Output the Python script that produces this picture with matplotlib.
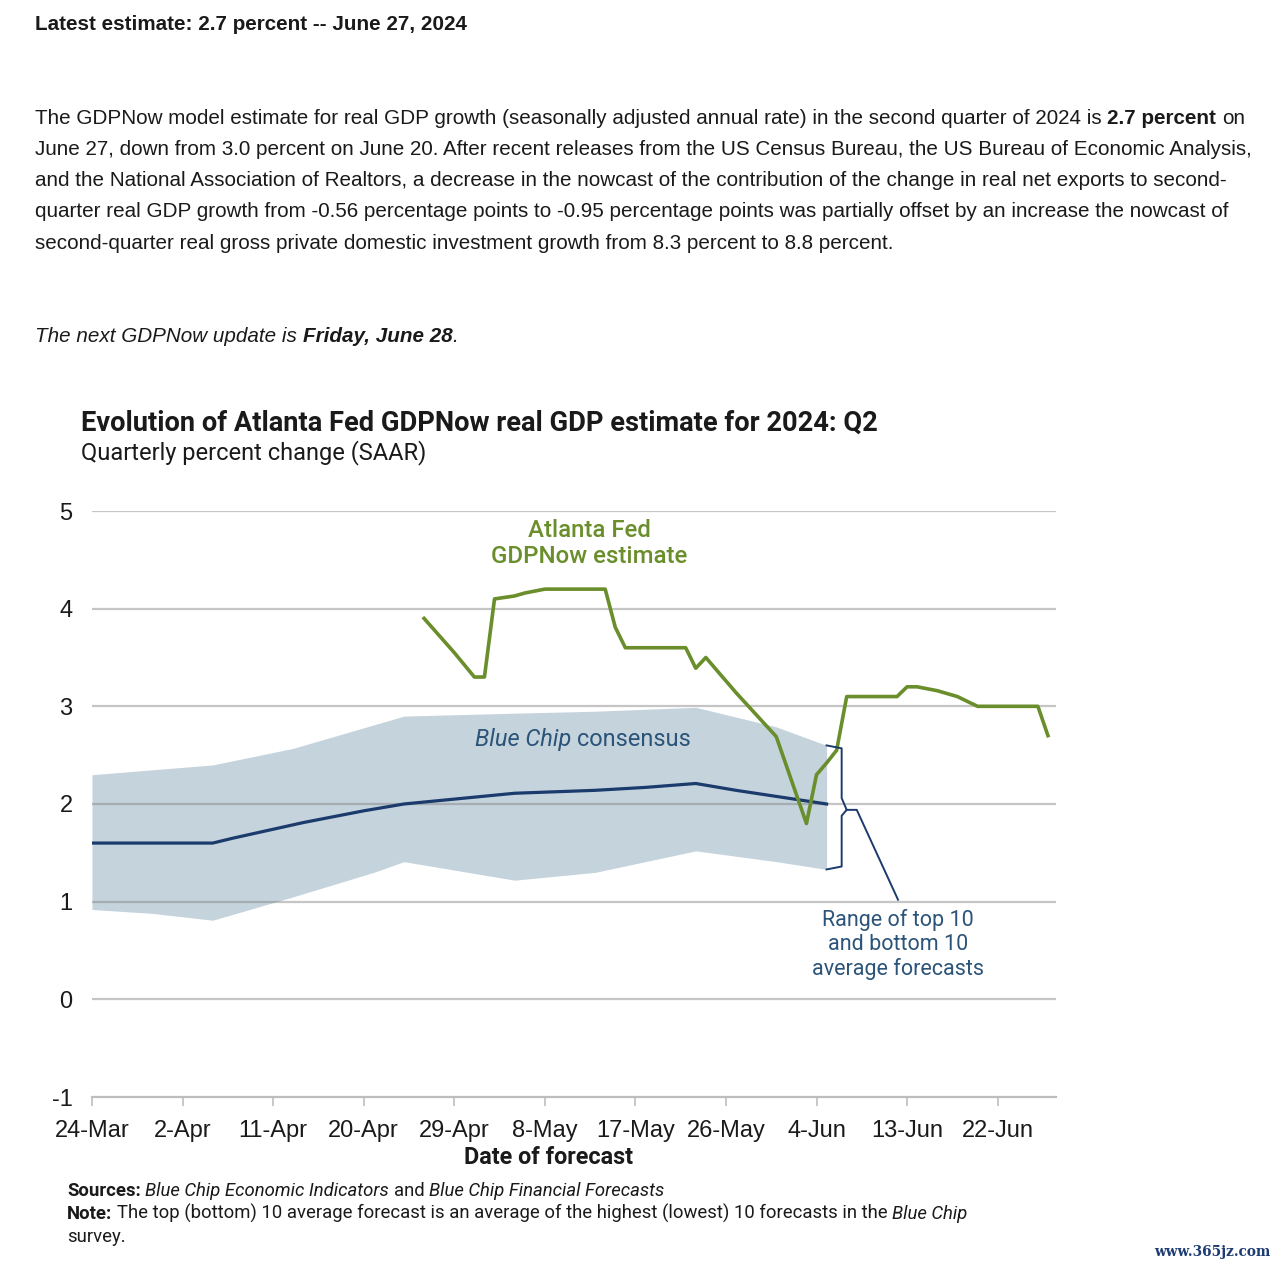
import numpy as np
import pandas as pd
import matplotlib
matplotlib.use('Agg')
import matplotlib.pyplot as plt
import matplotlib.dates as mdates

W, H = 1277, 1267

# GDPNow estimate (percent, SAAR)
gdpnow_dates = ['2024-04-26', '2024-04-29', '2024-05-01', '2024-05-02', '2024-05-03',
                '2024-05-05', '2024-05-06', '2024-05-08', '2024-05-14', '2024-05-15',
                '2024-05-16', '2024-05-22', '2024-05-23', '2024-05-24', '2024-05-27',
                '2024-05-31', '2024-06-03', '2024-06-04', '2024-06-05', '2024-06-06',
                '2024-06-07', '2024-06-12', '2024-06-13', '2024-06-14', '2024-06-16',
                '2024-06-18', '2024-06-20', '2024-06-26', '2024-06-27']
gdpnow_vals = [3.9, 3.55, 3.3, 3.3, 4.1, 4.13, 4.16, 4.2, 4.2, 3.81,
               3.6, 3.6, 3.39, 3.5, 3.14, 2.69, 1.8, 2.3, 2.42, 2.55,
               3.1, 3.1, 3.2, 3.2, 3.16, 3.1, 3.0, 3.0, 2.7]

# Blue Chip consensus
consensus_dates = ['2024-03-24', '2024-04-05', '2024-04-07', '2024-04-14', '2024-04-20',
                   '2024-04-24', '2024-04-29', '2024-05-05', '2024-05-13', '2024-05-18',
                   '2024-05-23', '2024-05-27', '2024-06-05']
consensus_vals = [1.6, 1.6, 1.65, 1.81, 1.93, 2.0, 2.05, 2.11, 2.14, 2.17, 2.21, 2.14, 2.0]

# top 10 / bottom 10 average range
band_dates = ['2024-03-24', '2024-03-30', '2024-04-05', '2024-04-13', '2024-04-21',
              '2024-04-24', '2024-05-05', '2024-05-13', '2024-05-23', '2024-05-31',
              '2024-06-05']
band_top = [2.3, 2.35, 2.4, 2.57, 2.81, 2.9, 2.93, 2.95, 2.99, 2.79, 2.6]
band_bottom = [0.92, 0.88, 0.81, 1.05, 1.3, 1.41, 1.22, 1.3, 1.52, 1.41, 1.33]

tick_labels = ['24-Mar', '2-Apr', '11-Apr', '20-Apr', '29-Apr', '8-May',
               '17-May', '26-May', '4-Jun', '13-Jun', '22-Jun']
y_ticks = [-1, 0, 1, 2, 3, 4, 5]

GREEN = '#6a8e2b'
NAVY = '#1b3b6d'
BAND = '#c5d3dd'
LABEL_BLUE = '#2b5478'

gd = pd.to_datetime(gdpnow_dates)
cd = pd.to_datetime(consensus_dates)
bd = pd.to_datetime(band_dates)
tick_dates = pd.date_range('2024-03-24', periods=len(tick_labels), freq='9D')

fig = plt.figure(figsize=(W / 100, H / 100), dpi=100)
renderer = fig.canvas.get_renderer()


def width_of(txt, **kw):
    t = fig.text(0, 0, txt, **kw)
    w = t.get_window_extent(renderer).width
    t.remove()
    return w


def rich(x, y, parts, size, family='Liberation Sans', color='#1a1a1a'):
    # parts: (text, weight, style); a leading ' ' means a space before the part
    for txt, weight, style in parts:
        kw = dict(fontsize=size, fontweight=weight, fontstyle=style, family=family)
        if txt.startswith(' '):
            x += width_of('n n', **kw) - width_of('nn', **kw)
            txt = txt[1:]
        t = fig.text(x / W, 1 - y / H, txt, color=color, va='baseline', **kw)
        x += t.get_window_extent(renderer).width


# page text above the chart
rich(35, 30, [('Latest estimate: 2.7 percent -- June 27, 2024', 'bold', 'normal')], 14.9)
para = 14.9
rich(35, 124, [('The GDPNow model estimate for real GDP growth (seasonally adjusted annual rate) '
                'in the second quarter of 2024 is', 'normal', 'normal'),
               (' 2.7 percent', 'bold', 'normal'), (' on', 'normal', 'normal')], para)
rich(35, 155, [('June 27, down from 3.0 percent on June 20. After recent releases from the US '
                'Census Bureau, the US Bureau of Economic Analysis,', 'normal', 'normal')], para)
rich(35, 186, [('and the National Association of Realtors, a decrease in the nowcast of the '
                'contribution of the change in real net exports to second-', 'normal', 'normal')], para)
rich(35, 217, [('quarter real GDP growth from -0.56 percentage points to -0.95 percentage points '
                'was partially offset by an increase the nowcast of', 'normal', 'normal')], para)
rich(35, 249, [('second-quarter real gross private domestic investment growth from 8.3 percent '
                'to 8.8 percent.', 'normal', 'normal')], para)
rich(35, 342, [('The next GDPNow update is', 'normal', 'italic'),
               (' Friday, June 28', 'bold', 'italic'), ('.', 'normal', 'italic')], para)

# chart titles
rich(81, 431, [('Evolution of Atlanta Fed GDPNow real GDP estimate for 2024: Q2', 'semibold', 'normal')],
     19.6, family='Roboto', color='#1a1a1a')
rich(81, 459, [('Quarterly percent change (SAAR)', 'normal', 'normal')],
     17, family='Roboto', color='#1a1a1a')

ax = fig.add_axes([92 / W, 1 - 1097 / H, 964 / W, 586 / H])
ax.fill_between(bd, band_bottom, band_top, color=BAND, lw=0, zorder=1)
for v in y_ticks[1:]:
    ax.axhline(v, color='#808080', alpha=0.45, lw=1.6, zorder=2)
ax.plot(cd, consensus_vals, color=NAVY, lw=2.3, zorder=3)
ax.plot(gd, gdpnow_vals, color=GREEN, lw=2.6, zorder=4)

# bracket marking the range at the end of the band
x_end = mdates.date2num(bd[-1])
top, bot, mid = band_top[-1], band_bottom[-1], consensus_vals[-1]
bx = [x_end, x_end + 1.5, x_end + 1.5, x_end + 2.0, x_end + 1.5, x_end + 1.5, x_end]
by = [top, top - 0.03, mid + 0.06, mid - 0.06, mid - 0.12, bot + 0.03, bot]
ax.plot(bx, by, color=NAVY, lw=1.4, zorder=4)
ax.plot([x_end + 2.0, x_end + 3.0, x_end + 7.1], [mid - 0.06, mid - 0.06, 1.02],
        color=NAVY, lw=1.4, zorder=4)

ax.text(mdates.date2num(pd.Timestamp('2024-05-12')) + 0.4, 4.67, 'Atlanta Fed\nGDPNow estimate',
        ha='center', va='center', color=GREEN, fontsize=17.3, family='Roboto',
        fontweight='medium', linespacing=1.17)
bc = ax.text(mdates.date2num(pd.Timestamp('2024-05-11')) - 0.35, 2.66, 'Blue Chip', ha='right',
             va='center', color=LABEL_BLUE, fontsize=17, family='Roboto', style='italic')
ax.annotate(' consensus', xy=(1, 0), xycoords=bc, va='bottom', ha='left',
            color=LABEL_BLUE, fontsize=17, family='Roboto')
ax.text(x_end + 7.1, 0.56, 'Range of top 10\nand bottom 10\naverage forecasts',
        ha='center', va='center', color=LABEL_BLUE, fontsize=15.5, family='Roboto',
        linespacing=1.2)

ax.set_xlim(mdates.date2num(pd.Timestamp('2024-03-24')),
            mdates.date2num(pd.Timestamp('2024-03-24')) + 95.8)
ax.set_ylim(-1, 5)
ax.set_xticks(tick_dates)
ax.set_xticklabels(tick_labels)
ax.set_yticks(y_ticks)
ax.set_yticklabels([str(v) for v in y_ticks])
for s in ['top', 'right', 'left']:
    ax.spines[s].set_visible(False)
ax.spines['bottom'].set_color('#bdbdbd')
ax.spines['bottom'].set_linewidth(1.6)
ax.tick_params(axis='x', length=6.5, width=1.2, color='#bdbdbd', pad=10,
               labelsize=17, labelcolor='#1a1a1a')
ax.tick_params(axis='y', length=0, pad=14, labelsize=17, labelcolor='#1a1a1a')
for lab in ax.get_xticklabels() + ax.get_yticklabels():
    lab.set_family('Liberation Sans')

fig.text(549 / W, 1 - 1164 / H, 'Date of forecast', ha='center', va='baseline',
         fontsize=16.8, fontweight='bold', family='Roboto', color='#1a1a1a')

# source notes
note = 13.3
rich(67, 1196, [('Sources:', 'bold', 'normal'), (' Blue Chip Economic Indicators', 'normal', 'italic'),
                (' and', 'normal', 'normal'), (' Blue Chip Financial Forecasts', 'normal', 'italic')],
     note, family='Roboto')
rich(67, 1219, [('Note:', 'bold', 'normal'),
                (' The top (bottom) 10 average forecast is an average of the highest (lowest) '
                 '10 forecasts in the', 'normal', 'normal'), (' Blue Chip', 'normal', 'italic')],
     note, family='Roboto')
rich(67, 1242, [('survey.', 'normal', 'normal')], note, family='Roboto')

fig.text(1270 / W, 1 - 1256 / H, 'www.365jz.com', ha='right', va='baseline', fontsize=9.8,
         family='DejaVu Serif', fontweight='bold', color='#1d3c73')

fig.savefig('out.png', dpi=100, facecolor='white')
